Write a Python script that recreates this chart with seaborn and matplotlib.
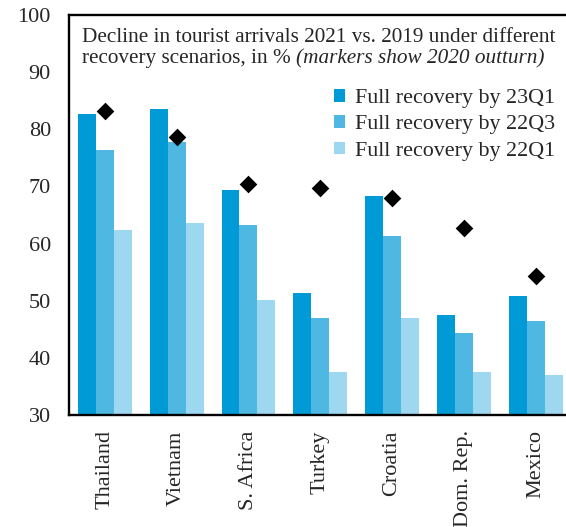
import matplotlib
matplotlib.use("Agg")
import matplotlib.pyplot as plt
from matplotlib.patches import Patch
import pandas as pd
import seaborn as sns

# Countries and scenario values (decline in tourist arrivals 2021 vs 2019, %)
countries = ["Thailand", "Vietnam", "S. Africa", "Turkey", "Croatia", "Dom. Rep.", "Mexico"]
scenarios = ["Full recovery by 23Q1", "Full recovery by 22Q3", "Full recovery by 22Q1"]
recovery_23q1 = [82.7, 83.6, 69.4, 51.3, 68.3, 47.5, 50.9]
recovery_22q3 = [76.3, 77.7, 63.2, 47.0, 61.4, 44.4, 46.4]
recovery_22q1 = [62.3, 63.6, 50.1, 37.6, 46.9, 37.5, 37.0]
outturn_2020 = [83.2, 78.7, 70.5, 69.7, 68.0, 62.7, 54.3]
y_ticks = [30, 40, 50, 60, 70, 80, 90, 100]

palette = ["#009bd6", "#4eb8e2", "#9dd8f0"]

sns.set_theme(style="white")
plt.rcParams["font.family"] = ["Liberation Serif", "DejaVu Serif"]

bars = pd.DataFrame({
    "country": countries * 3,
    "scenario": [s for s in scenarios for _ in countries],
    "value": recovery_23q1 + recovery_22q3 + recovery_22q1,
})
marks = pd.DataFrame({"country": countries, "value": outturn_2020})

fig = plt.figure(figsize=(5.66, 5.27), dpi=100)
ax = fig.add_axes([69 / 566, 112 / 527, 502.5 / 566, 400 / 527])

sns.barplot(data=bars, x="country", y="value", hue="scenario", order=countries,
            hue_order=scenarios, palette=palette, width=0.75, gap=0,
            saturation=1, edgecolor="none", linewidth=0, ax=ax, legend=False)
sns.stripplot(data=marks, x="country", y="value", order=countries, jitter=False,
              marker="D", size=9, color="black", linewidth=0, ax=ax, zorder=5)

ax.set_xlim(-0.5, 6.5)
ax.set_ylim(30, 100)
ax.set_yticks(y_ticks)
ax.set_yticklabels([str(t) for t in y_ticks], fontsize=16)
ax.set_xticks(range(len(countries)))
ax.set_xticklabels(countries, rotation=90, fontsize=16, va="top", ha="center")
ax.tick_params(axis="y", length=0, pad=13)
ax.tick_params(axis="x", length=0, pad=11)
ax.set_xlabel("")
ax.set_ylabel("")
for side in ["left", "bottom", "top", "right"]:
    ax.spines[side].set_visible(True)
    ax.spines[side].set_color("black")
    ax.spines[side].set_linewidth(1.7)

ax.text(13 / 502.5, 1 - 27 / 400,
        "Decline in tourist arrivals 2021 vs. 2019 under different",
        transform=ax.transAxes, fontsize=15.3, va="baseline", ha="left")
ax.text(13 / 502.5, 1 - 48 / 400,
        "recovery scenarios, in % ",
        transform=ax.transAxes, fontsize=15.3, va="baseline", ha="left")
ax.annotate("(markers show 2020 outturn)", xy=(1, 0), xycoords=ax.texts[-1],
            fontsize=15.3, style="italic", va="bottom", ha="left")

handles = [Patch(facecolor=c, edgecolor="none") for c in palette]
ax.legend(handles, scenarios, loc="upper left",
          bbox_to_anchor=(334 / 566, 1 - 89 / 527), bbox_transform=fig.transFigure,
          frameon=False, fontsize=15.8, handlelength=0.5, handleheight=0.5,
          handletextpad=0.45, labelspacing=0.33, borderpad=0, borderaxespad=0)

fig.savefig("out.png", dpi=100)
